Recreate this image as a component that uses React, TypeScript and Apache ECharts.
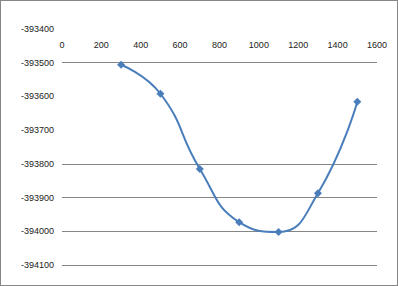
import React, { useEffect, useRef } from "react";
import * as echarts from "echarts";

const xValues = [300, 500, 700, 900, 1100, 1300, 1500];
const yValues = [-393506, -393592, -393815, -393973, -394002, -393887, -393616];
const xTicks = [0, 200, 400, 600, 800, 1000, 1200, 1400, 1600];
const yMin = -394100;
const yMax = -393400;
// split line colours from bottom (-394100) to top (-393400)
const gridColors = ["#868686", "#868686", "#868686", "#868686", "transparent", "transparent", "#868686", "transparent"];

export default function App() {
  const ref = useRef<HTMLDivElement>(null);
  useEffect(() => {
    if (!ref.current) return;
    const chart = echarts.init(ref.current, null, { renderer: "svg" });
    chart.setOption({
      animation: false,
      backgroundColor: "#fff",
      grid: { left: 61, right: 20, top: 28, bottom: 20, containLabel: false },
      xAxis: {
        type: "value",
        position: "top",
        min: xTicks[0],
        max: xTicks[xTicks.length - 1],
        interval: 200,
        axisLine: { show: false },
        axisTick: { show: false },
        splitLine: { show: false },
        axisLabel: {
          inside: true,
          margin: 11,
          fontSize: 9,
          color: "#222",
          fontFamily: "Liberation Sans, Arial, sans-serif",
          formatter: (v: number) => String(v),
        },
      },
      yAxis: {
        type: "value",
        min: yMin,
        max: yMax,
        interval: 100,
        axisLine: { show: false },
        axisTick: { show: false },
        axisLabel: {
          margin: 8,
          fontSize: 9,
          color: "#222",
          fontFamily: "Liberation Sans, Arial, sans-serif",
          formatter: (v: number) => String(v),
        },
        splitLine: {
          show: true,
          showMinLine: true,
          showMaxLine: true,
          lineStyle: { color: gridColors, width: 1 },
        },
      },
      series: [
        {
          type: "line",
          data: xValues.map((x, i) => [x, yValues[i]]),
          smooth: 0.5,
          symbol: "diamond",
          symbolSize: 8,
          lineStyle: { color: "#4a7ebb", width: 2 },
          itemStyle: { color: "#4a7ebb" },
        },
      ],
    });
    return () => chart.dispose();
  }, []);
  return (
    <div
      style={{
        position: "fixed",
        left: 0,
        top: 0,
        width: 398,
        height: 286,
        boxSizing: "border-box",
        border: "1px solid #868686",
        background: "#fff",
      }}
    >
      <div ref={ref} style={{ width: 396, height: 284 }} />
    </div>
  );
}
